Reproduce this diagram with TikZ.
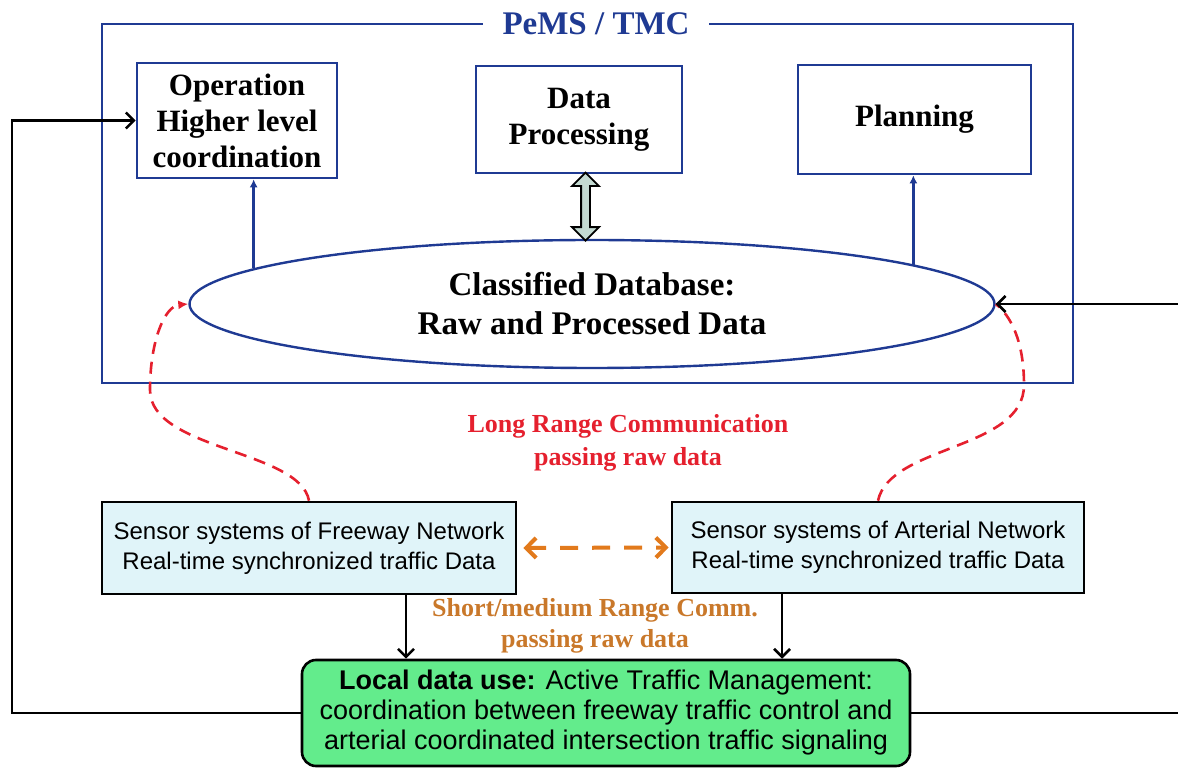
\documentclass[tikz,border=0pt]{standalone}
\usepackage{fontspec}
\setmainfont{Liberation Serif}
\setsansfont{Liberation Sans}
\usepackage{xcolor}
\usepackage{tikz}
\usetikzlibrary{arrows.meta,calc,shapes.geometric,shapes.arrows}
\definecolor{tmNavy}{HTML}{1F3A93}
\definecolor{tmRed}{HTML}{E5202E}
\definecolor{tmOrange}{HTML}{E27A1C}
\definecolor{tmOrangeText}{HTML}{C9782A}
\definecolor{tmCyan}{HTML}{E0F4F9}
\definecolor{tmGreen}{HTML}{63EC8C}
\definecolor{tmSwap}{HTML}{C4DAD2}
\tikzset{
  tm diagram/.style={x=0.5pt, y=-0.5pt},
  tm frame/.style={draw=tmNavy, line width=1.3pt, inner sep=0pt},
  tm title/.style={font=\fontsize{16.5}{19}\selectfont\bfseries, text=tmNavy,
    fill=white, inner xsep=10pt, inner ysep=2pt},
  tm box/.style={draw=tmNavy, line width=1.3pt, align=center, inner sep=0pt,
    font=\fontsize{15.5}{18}\selectfont\bfseries},
  tm store/.style={ellipse, draw=tmNavy, line width=1.2pt, align=center,
    inner sep=0pt, font=\fontsize{16.5}{19.5}\selectfont\bfseries},
  tm sensor box/.style={draw=black, line width=1.3pt, fill=tmCyan, align=center,
    inner sep=0pt, font=\sffamily\fontsize{12}{15}\selectfont},
  tm local box/.style={draw=black, line width=1.3pt, fill=tmGreen,
    rounded corners=7pt, align=center, inner sep=0pt,
    font=\sffamily\fontsize{13.5}{15}\selectfont},
  tm swap/.style={double arrow, draw=black, line width=0.9pt, fill=tmSwap,
    rotate=90, inner sep=1.75pt, double arrow head extend=4.5pt,
    minimum height=34pt},
  tm link/.style={-{Latex[length=4pt,width=4pt]}, draw=tmNavy, line width=1.2pt},
  tm feed/.style={-{Straight Barb[length=4pt,width=8pt]}, draw=black,
    line width=1.3pt},
  tm long/.style={-{Latex[length=5pt,width=4.5pt]}, draw=tmRed, line width=1.3pt,
    dash pattern=on 6pt off 4pt},
  tm short/.style={{Straight Barb[length=5pt,width=10pt]}-{Straight Barb[length=5pt,width=10pt]},
    draw=tmOrange, line width=2pt, dash pattern=on 9pt off 7pt},
  tm long label/.style={font=\fontsize{13}{16.5}\selectfont\bfseries,
    text=tmRed, align=center},
  tm short label/.style={font=\fontsize{13}{15.5}\selectfont\bfseries,
    text=tmOrangeText, align=center}
}
\begin{document}
\begin{tikzpicture}[tm diagram]
\useasboundingbox (0,0) rectangle (1178,769);
\node[tm frame, minimum width=485.5pt, minimum height=179.5pt] (pems) at (587.5,203.5) {};
\node[tm title] (pemstitle) at (596,24) {PeMS / TMC};
\node[tm box, minimum width=100pt, minimum height=57.5pt] (operation) at (237,120.5) {Operation\\Higher level\\coordination};
\node[tm box, minimum width=103pt, minimum height=53.5pt] (processing) at (579,119.5) {Data\\Processing};
\node[tm box, minimum width=116.5pt, minimum height=54.5pt, text width=105pt] (planning) at (914.5,119.5) {Planning};
\node[tm store, minimum width=402.5pt, minimum height=64pt] (database) at (592,304) {Classified Database:\\Raw and Processed Data};
\node[tm swap] (exchange) at ($(processing.south)!0.5!(database.north)$) {};
\node[tm sensor box, minimum width=207pt, minimum height=46pt] (freeway) at (309,548) {Sensor systems of Freeway Network\\Real-time synchronized traffic Data};
\node[tm sensor box, minimum width=206pt, minimum height=45.5pt] (arterial) at (878,547.5) {Sensor systems of Arterial Network\\Real-time synchronized traffic Data};
\node[tm local box, minimum width=304pt, minimum height=53pt] (localuse) at (606,713) {\textbf{Local data use:} Active Traffic Management:\\coordination between freeway traffic control and\\arterial coordinated intersection traffic signaling};
\node[tm long label] (longrange) at (628,443) {Long Range Communication\\passing raw data};
\node[tm short label] (shortrange) at (595,626) {Short/medium Range Comm.\\passing raw data};
\coordinate (leftbend) at (150,390);
\coordinate (rightbend) at (1024,385);
\coordinate (leftrail) at (12,0);
\coordinate (rightrail) at (1190,0);
\draw[tm link] (database.174) -- (database.174 |- operation.south);
\draw[tm link] (database.7) -- (database.7 |- planning.south);
\draw[tm long] (freeway.north) .. controls (300,450) and (150,450) .. (leftbend) .. controls (150,340) and (165,306) .. (database.west);
\draw[tm long, -] (arterial.north) .. controls (890,445) and (1024,450) .. (rightbend) .. controls (1024,340) and (1010,315) .. (database.east);
\draw[tm short, shorten <=3pt, shorten >=1pt] (freeway.east) -- (arterial.west);
\draw[tm feed] (freeway.-26) -- (freeway.-26 |- localuse.north);
\draw[tm feed] (arterial.-154) -- (arterial.-154 |- localuse.north);
\draw[tm feed] (localuse.west) -- (localuse.west -| leftrail) |- (operation.west);
\draw[tm feed] (localuse.east) -- (localuse.east -| rightrail) |- (database.east);
\end{tikzpicture}
\end{document}
